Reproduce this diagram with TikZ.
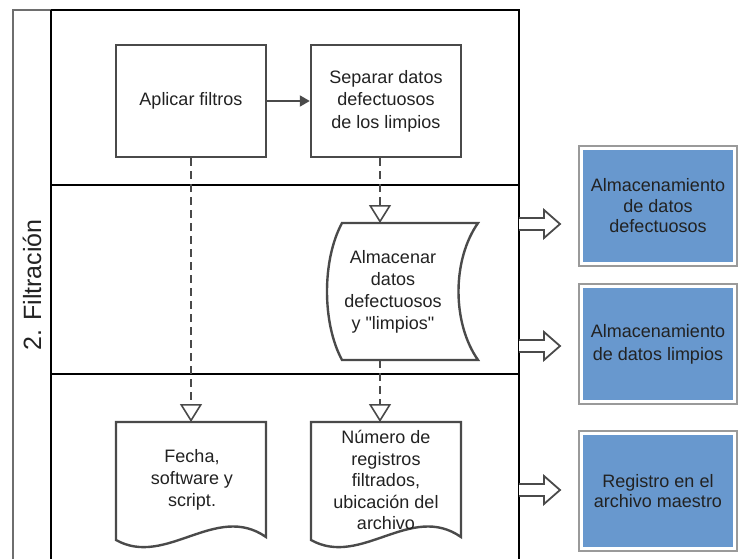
\documentclass[tikz,border=0pt]{standalone}
\usepackage{fontspec}
\setmainfont{Liberation Sans}
% same face without the TeX text mapping, so straight quotes stay straight
\newfontfamily\plainq{Liberation Sans}
\usetikzlibrary{arrows.meta}

\definecolor{inkgray}{HTML}{4A4A4A}
\definecolor{lanegray}{HTML}{6E6E6E}
\definecolor{storeblue}{RGB}{104,152,206}
\definecolor{rimgray}{HTML}{9A9A9A}
\definecolor{textdark}{HTML}{222222}

\tikzset{
  lanerule/.style={line width=2.6pt, draw=black},
  laneedge/.style={line width=2pt, draw=lanegray},
  procbox/.style={draw=inkgray, line width=2.4pt, fill=white, minimum width=150pt,
    minimum height=112pt, align=center, text=textdark,
    font=\fontsize{18}{22.5}\selectfont},
  shapeline/.style={draw=inkgray, line width=2.4pt, fill=white},
  boxtext/.style={align=center, text=textdark, font=\fontsize{18}{22}\selectfont},
  flowdash/.style={draw=inkgray, line width=1.8pt, dash pattern=on 8pt off 5pt,
    -{Triangle[open, length=18pt, width=22pt, line width=1.6pt]}},
  flowsolid/.style={draw=inkgray, line width=1.8pt, -{Triangle[length=10pt, width=11pt]}},
  storebox/.style={fill=storeblue, draw=white, line width=2pt, minimum width=152pt,
    minimum height=114pt, align=center, text=textdark,
    font=\fontsize{18}{20.5}\selectfont},
  storerim/.style={draw=rimgray, line width=2pt},
  outarrow/.style={draw=inkgray, line width=1.8pt, fill=white, line join=miter},
}

\begin{document}
\begin{tikzpicture}[x=1pt, y=-1pt]
\useasboundingbox (0,0) rectangle (738,559);

% swimlane frame
\draw[laneedge] (13,559) -- (13,10) -- (51,10);
\draw[lanerule] (51,10) -- (519,10) -- (519,559);
\draw[lanerule] (51,10) -- (51,559);
\draw[lanerule] (51,185) -- (519,185);
\draw[lanerule] (51,374) -- (519,374);
\node[rotate=90, text=textdark, font=\fontsize{25}{30}\selectfont] (lane) at (32,285) {2. Filtración};

% first row: processes
\node[procbox] (apl) at (191,101) {Aplicar filtros};
\node[procbox] (sep) at (386,101) {Separar datos\\defectuosos\\de los limpios};
\draw[flowsolid] (apl.east) -- (sep.west);

% second row: stored data
\draw[shapeline] (342,223) -- (478,223)
  .. controls (452,260) and (452,323) .. (478,360)
  -- (342,360)
  .. controls (322,323) and (322,260) .. (342,223) -- cycle;
\node[boxtext] (sto) at (393,292) {Almacenar\\datos\\defectuosos\\{\plainq y "limpios"}};
\coordinate (stoN) at (380,223);
\coordinate (stoS) at (380,360);
\draw[flowdash] (sep.south -| stoN) -- (stoN);

% third row: documents
\draw[shapeline] (116,422) -- (266,422) -- (266,537)
  .. controls (216,502) and (166,568) .. (116,540) -- cycle;
\node[boxtext] (fec) at (192,480) {Fecha,\\software y\\script.};
\coordinate (fecN) at (191,422);
\draw[flowdash] (apl.south) -- (fecN);

\draw[shapeline] (311,422) -- (461,422) -- (461,537)
  .. controls (411,502) and (361,568) .. (311,540) -- cycle;
\coordinate (numN) at (380,422);
\draw[flowdash] (stoS) -- (numN);
\node[boxtext, font=\fontsize{18}{21.5}\selectfont] (num) at (386,480)
  {Número de\\registros\\filtrados,\\ubicación del\\archivo};

% storage targets
\node[storebox] (b1) at (658,206) {Almacenamiento\\de datos\\defectuosos};
\node[storebox, font=\fontsize{18}{23}\selectfont] (b2) at (658,344) {Almacenamiento\\de datos limpios};
\node[storebox] (b3) at (658,491) {Registro en el\\archivo maestro};
\foreach \b in {b1,b2,b3}
  \draw[storerim] ([shift={(-2,2)}]\b.south west) rectangle ([shift={(2,-2)}]\b.north east);

% hollow outflow arrows
\foreach \yy/\tgt in {224/b1, 346/b2, 490/b3} {
  \coordinate (o\tgt) at (519,\yy);
  \draw[outarrow] (o\tgt) ++(0,-6) -- ++(25,0) -- ++(0,-8) -- ++(16,14)
    -- ++(-16,14) -- ++(0,-8) -- ++(-25,0);
}
\end{tikzpicture}
\end{document}
